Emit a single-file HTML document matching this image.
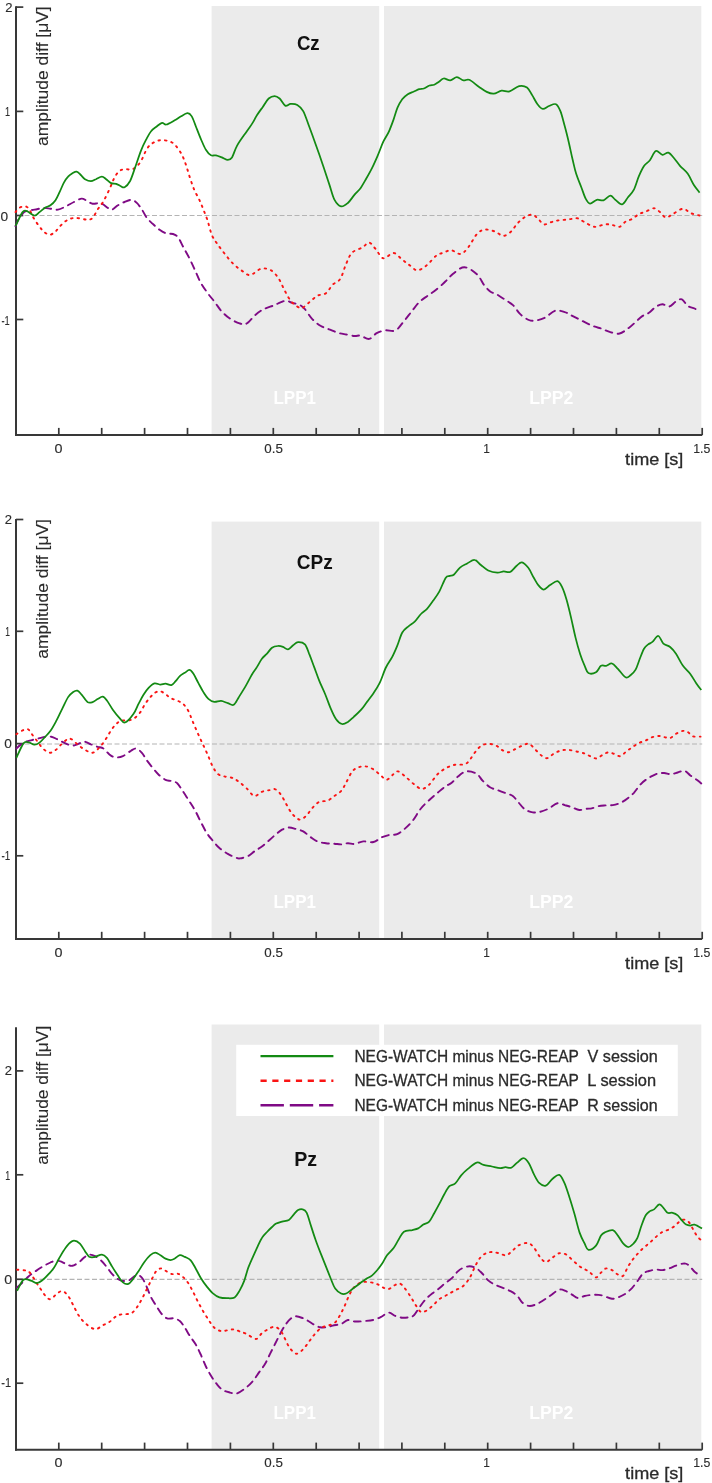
<!DOCTYPE html>
<html><head><meta charset="utf-8"><title>ERP difference waves</title><style>
html,body{margin:0;padding:0;background:#fff;}
body{width:712px;height:1483px;overflow:hidden;}
svg{display:block;font-family:"Liberation Sans",sans-serif;will-change:transform;filter:blur(0.35px);}
</style></head><body>
<svg width="712" height="1483" viewBox="0 0 712 1483">
<rect width="712" height="1483" fill="#fff"/>
<rect x="211.6" y="6.0" width="167.6" height="429.1" fill="#ebebeb"/>
<rect x="384.0" y="6.0" width="317.3" height="429.1" fill="#ebebeb"/>
<text x="273.48" y="403.90" font-size="19" font-weight="bold" fill="#ffffff" textLength="42.49" lengthAdjust="spacingAndGlyphs">LPP1</text>
<text x="529.14" y="403.90" font-size="19" font-weight="bold" fill="#ffffff" textLength="44.19" lengthAdjust="spacingAndGlyphs">LPP2</text>
<line x1="17.0" y1="215.5" x2="702.2" y2="215.5" stroke="#b4b4b4" stroke-width="1.1" stroke-dasharray="5 2.5"/>
<line x1="16.0" y1="6.3" x2="16.0" y2="436.1" stroke="#383838" stroke-width="2"/>
<line x1="15.0" y1="435.1" x2="702.2" y2="435.1" stroke="#383838" stroke-width="2"/>
<line x1="16.0" y1="7.1" x2="23.3" y2="7.1" stroke="#383838" stroke-width="1.7"/>
<text x="5.17" y="11.80" font-size="12.3" fill="#2b2b2b" stroke="#2b2b2b" stroke-width="0.12" textLength="7.26" lengthAdjust="spacingAndGlyphs">2</text>
<line x1="16.0" y1="111.4" x2="23.3" y2="111.4" stroke="#383838" stroke-width="1.7"/>
<text x="4.96" y="115.80" font-size="12.3" fill="#2b2b2b" stroke="#2b2b2b" stroke-width="0.12" textLength="5.08" lengthAdjust="spacingAndGlyphs">1</text>
<line x1="16.0" y1="215.5" x2="23.3" y2="215.5" stroke="#383838" stroke-width="1.7"/>
<text x="0.44" y="220.60" font-size="12.3" fill="#2b2b2b" stroke="#2b2b2b" stroke-width="0.12" textLength="7.62" lengthAdjust="spacingAndGlyphs">0</text>
<line x1="16.0" y1="319.5" x2="23.3" y2="319.5" stroke="#383838" stroke-width="1.7"/>
<text x="1.42" y="324.60" font-size="12.3" fill="#2b2b2b" stroke="#2b2b2b" stroke-width="0.12" textLength="8.30" lengthAdjust="spacingAndGlyphs">-1</text>
<path d="M15.5 226.1C16.1 224.8 17.8 220.3 19.3 218.0C20.8 215.7 22.5 213.4 24.3 212.1C26.1 210.8 28.1 210.9 30.2 210.4C32.3 209.9 34.8 209.6 37.0 209.2C39.2 208.8 41.5 208.0 43.7 207.9C46.0 207.8 48.1 208.4 50.5 208.7C52.9 209.0 55.5 210.0 58.0 209.6C60.5 209.2 62.9 207.8 65.6 206.5C68.3 205.2 71.3 203.3 74.0 202.0C76.7 200.7 79.5 198.8 81.6 198.6C83.7 198.4 84.9 200.0 86.7 200.8C88.5 201.7 90.6 203.3 92.6 203.7C94.6 204.1 96.8 203.1 98.5 203.2C100.2 203.3 101.2 203.4 102.7 204.2C104.2 205.0 106.2 207.0 107.8 207.9C109.3 208.8 110.3 210.0 112.0 209.6C113.7 209.2 115.8 206.6 117.9 205.3C120.0 204.0 122.3 202.9 124.6 202.0C126.9 201.1 129.7 199.7 131.7 199.8C133.7 200.0 135.1 201.3 136.8 202.9C138.5 204.5 140.2 207.1 141.9 209.6C143.6 212.1 145.1 215.6 146.9 218.0C148.7 220.4 150.7 221.9 152.8 223.9C154.9 225.9 157.3 228.2 159.6 229.8C161.8 231.4 164.1 232.8 166.3 233.5C168.5 234.2 171.0 233.3 173.0 234.0C175.0 234.7 176.4 235.3 178.1 237.4C179.8 239.5 181.1 243.0 183.1 246.7C185.1 250.3 187.8 255.1 189.9 259.3C192.0 263.5 194.0 268.1 195.8 272.0C197.6 275.9 198.8 279.4 200.8 282.9C202.8 286.4 205.3 289.9 207.6 293.0C209.8 296.1 212.1 298.6 214.3 301.5C216.6 304.4 218.6 307.9 221.1 310.7C223.6 313.5 226.4 316.2 229.5 318.3C232.6 320.4 236.7 322.5 239.6 323.4C242.5 324.3 244.1 324.9 246.7 323.5C249.3 322.1 252.4 317.5 255.2 315.1C258.0 312.7 260.5 310.8 263.6 309.2C266.7 307.6 270.9 306.6 273.7 305.5C276.5 304.4 278.4 303.2 280.5 302.4C282.6 301.6 284.4 300.6 286.4 300.7C288.3 300.8 290.0 302.1 292.2 302.8C294.4 303.5 297.7 303.9 299.8 305.0C301.9 306.1 302.8 306.8 304.9 309.2C307.0 311.6 309.8 316.5 312.5 319.3C315.2 322.1 318.1 324.3 320.9 326.0C323.7 327.7 326.5 328.3 329.3 329.4C332.1 330.5 335.0 331.9 337.8 332.8C340.6 333.7 343.4 334.0 346.2 334.5C349.0 335.0 352.2 335.8 354.6 336.0C357.0 336.2 358.3 335.2 360.7 335.7C363.1 336.2 366.5 339.3 369.2 338.9C371.9 338.5 374.0 334.6 376.7 333.2C379.4 331.8 382.0 330.9 385.2 330.4C388.4 329.9 392.5 332.0 395.6 330.4C398.8 328.8 401.4 324.1 404.1 321.0C406.8 317.9 409.1 314.6 411.6 311.5C414.1 308.4 416.7 304.6 419.2 302.1C421.7 299.6 423.9 298.4 426.7 296.4C429.5 294.3 433.0 292.3 436.1 289.8C439.2 287.3 442.8 284.0 445.6 281.3C448.4 278.6 450.0 276.2 453.1 273.8C456.2 271.4 460.4 267.1 464.4 267.2C468.4 267.3 473.7 271.4 477.0 274.4C480.3 277.3 481.8 282.1 484.0 284.9C486.2 287.7 488.0 289.8 490.2 291.4C492.4 293.0 494.7 293.2 497.2 294.6C499.7 296.0 502.5 298.1 505.1 299.8C507.7 301.6 510.5 302.8 513.0 305.1C515.5 307.5 517.4 311.4 520.0 313.9C522.6 316.4 526.2 318.9 528.8 320.0C531.4 321.1 533.0 320.9 535.8 320.5C538.6 320.1 542.2 319.0 545.4 317.4C548.6 315.8 551.9 311.6 555.1 310.7C558.3 309.8 561.9 311.3 564.7 312.1C567.5 312.9 568.9 314.1 571.8 315.6C574.7 317.1 578.7 319.1 582.3 320.9C585.9 322.7 590.1 324.9 593.4 326.2C596.7 327.5 599.1 327.8 601.9 328.8C604.7 329.8 607.3 331.3 610.3 332.1C613.2 332.9 616.5 334.2 619.6 333.5C622.7 332.8 626.1 329.8 628.8 327.9C631.5 326.0 633.4 324.0 635.6 322.0C637.9 320.0 640.1 317.6 642.3 316.1C644.5 314.6 646.8 314.3 649.0 312.8C651.2 311.3 653.5 308.3 655.8 306.9C658.0 305.5 660.2 304.4 662.5 304.3C664.8 304.2 667.0 307.0 669.3 306.5C671.5 306.0 673.9 302.7 676.0 301.5C678.1 300.3 679.9 298.6 681.9 299.3C683.9 300.1 685.7 304.5 687.8 306.0C689.9 307.5 692.6 307.5 694.6 308.5C696.6 309.5 698.8 311.3 699.6 311.9" fill="none" stroke="#7f0a85" stroke-width="1.9" stroke-dasharray="6.9 5.5" stroke-linecap="round" stroke-linejoin="round"/>
<path d="M15.5 212.1C16.1 211.4 17.7 208.9 19.3 207.9C20.9 206.9 23.5 205.9 25.2 206.2C26.9 206.5 28.0 207.6 29.4 209.6C30.8 211.6 32.0 215.3 33.6 218.0C35.2 220.7 37.0 223.3 38.7 225.6C40.4 227.8 41.9 230.0 43.7 231.5C45.5 233.0 47.6 234.8 49.6 234.8C51.6 234.8 53.7 233.0 55.5 231.5C57.3 230.0 58.6 227.5 60.6 225.6C62.6 223.7 65.1 221.3 67.3 220.0C69.5 218.7 71.8 218.2 74.0 218.0C76.2 217.8 78.5 218.2 80.8 218.5C83.0 218.8 85.5 219.8 87.5 219.7C89.5 219.6 90.9 219.7 92.6 218.0C94.3 216.3 95.8 212.4 97.6 209.6C99.4 206.8 101.5 204.5 103.5 201.1C105.5 197.7 107.7 193.0 109.4 189.3C111.1 185.7 112.2 182.1 113.7 179.2C115.2 176.2 116.9 173.3 118.7 171.6C120.5 169.9 122.3 169.6 124.6 169.2C126.9 168.8 130.0 170.3 132.6 169.2C135.2 168.1 137.8 165.8 140.2 162.4C142.6 159.0 144.8 152.1 146.9 148.9C149.0 145.7 150.6 144.4 152.8 143.0C155.1 141.6 157.6 140.5 160.4 140.2C163.2 139.9 167.2 140.5 169.7 141.4C172.2 142.3 173.6 143.5 175.6 145.6C177.6 147.7 179.8 150.9 181.5 154.0C183.2 157.1 184.3 160.2 185.7 164.1C187.1 168.0 188.5 173.4 189.9 177.6C191.3 181.8 192.6 185.8 194.1 189.4C195.6 193.1 197.6 196.1 199.2 199.5C200.8 202.9 202.0 206.1 203.4 209.6C204.8 213.1 206.2 216.4 207.6 220.6C209.0 224.8 210.2 231.1 211.8 234.9C213.4 238.7 214.8 240.2 216.9 243.3C219.0 246.4 221.7 250.0 224.4 253.4C227.1 256.8 230.1 260.7 232.9 263.5C235.7 266.3 238.4 268.4 241.3 270.3C244.2 272.2 246.8 275.4 250.1 275.1C253.4 274.8 257.6 269.5 261.1 268.7C264.6 267.9 268.2 268.7 271.2 270.4C274.1 272.1 276.6 275.4 278.8 278.8C281.1 282.2 282.7 287.0 284.7 290.6C286.7 294.2 288.5 298.0 290.6 300.7C292.7 303.4 295.3 305.4 297.3 306.6C299.3 307.8 300.4 308.5 302.4 307.8C304.4 307.1 306.6 304.4 309.1 302.4C311.6 300.4 314.7 297.2 317.5 295.7C320.3 294.2 323.5 295.0 326.0 293.2C328.5 291.4 330.3 287.1 332.7 284.7C335.1 282.3 338.1 282.3 340.3 278.8C342.6 275.3 344.2 268.1 346.2 263.7C348.2 259.3 349.4 255.4 352.1 252.7C354.8 250.0 359.6 249.1 362.5 247.4C365.4 245.7 367.0 242.3 369.2 242.6C371.4 242.9 373.4 246.6 375.8 249.2C378.2 251.8 380.3 257.7 383.3 258.3C386.3 258.9 390.6 252.8 393.7 253.0C396.8 253.2 399.5 257.6 402.2 259.6C404.9 261.7 407.2 263.5 409.7 265.3C412.2 267.1 414.5 270.4 417.3 270.4C420.1 270.4 423.6 267.7 426.7 265.3C429.8 262.9 433.3 257.9 436.1 255.8C438.9 253.7 441.2 253.5 443.7 252.6C446.2 251.7 448.4 250.0 451.2 250.2C454.0 250.4 457.9 254.5 460.7 254.0C463.5 253.5 465.5 250.7 468.2 247.4C470.9 244.1 474.2 237.0 477.0 234.0C479.8 231.0 482.0 230.0 484.9 229.6C487.8 229.2 491.5 230.4 494.6 231.4C497.7 232.4 500.5 235.8 503.3 235.8C506.1 235.8 508.9 233.5 511.2 231.4C513.5 229.3 515.2 225.8 517.4 223.5C519.6 221.2 521.9 218.9 524.4 217.4C526.9 215.9 530.0 214.4 532.3 214.7C534.6 215.0 536.5 217.5 538.4 219.1C540.3 220.7 541.7 223.9 543.7 224.4C545.8 224.9 548.4 223.0 550.7 222.3C553.0 221.7 554.8 221.0 557.7 220.5C560.6 220.0 565.0 219.9 568.2 219.5C571.4 219.1 574.4 217.8 577.0 218.2C579.6 218.6 581.1 220.4 584.0 221.8C586.9 223.2 590.8 226.4 594.3 226.8C597.8 227.2 602.1 224.6 605.2 224.3C608.3 224.0 610.4 224.7 612.8 225.1C615.2 225.5 617.5 227.4 619.6 226.8C621.7 226.2 623.4 223.0 625.5 221.7C627.6 220.4 630.0 220.2 632.2 218.9C634.4 217.7 636.6 215.4 638.9 214.2C641.1 213.0 643.2 212.6 645.7 211.6C648.2 210.6 651.7 208.2 654.1 208.3C656.5 208.4 658.0 210.6 660.0 212.1C662.0 213.6 663.8 217.2 665.9 217.5C668.0 217.8 669.8 215.6 672.6 214.2C675.4 212.8 679.7 209.0 682.8 208.8C685.9 208.7 688.4 212.2 691.2 213.3C694.0 214.4 698.2 215.1 699.6 215.5" fill="none" stroke="#fa1414" stroke-width="1.9" stroke-dasharray="1.5 5" stroke-linecap="round" stroke-linejoin="round"/>
<path d="M15.5 226.0C16.7 223.7 20.7 214.6 22.6 212.1C24.5 209.6 24.9 210.6 26.9 211.2C28.9 211.8 32.3 215.3 34.4 215.5C36.5 215.7 37.7 213.4 39.5 212.1C41.3 210.8 43.6 208.6 45.4 207.5C47.2 206.4 48.8 206.5 50.5 205.3C52.2 204.1 54.0 202.5 55.5 200.3C57.0 198.1 58.3 194.9 59.7 191.9C61.1 188.9 62.5 185.1 63.9 182.6C65.3 180.1 66.7 178.2 68.1 176.7C69.5 175.1 71.0 174.2 72.4 173.3C73.8 172.5 75.2 171.3 76.6 171.6C78.0 171.9 79.4 173.7 80.8 175.0C82.2 176.3 83.3 178.2 85.0 179.2C86.7 180.2 89.1 181.2 90.9 181.2C92.7 181.2 94.2 179.9 96.0 179.2C97.8 178.4 100.2 176.7 101.9 176.7C103.6 176.7 104.6 178.1 106.1 179.2C107.6 180.3 109.4 182.3 111.1 183.1C112.8 183.9 114.7 183.3 116.2 183.8C117.8 184.3 119.0 185.4 120.4 186.0C121.8 186.6 123.0 188.1 124.6 187.3C126.2 186.5 128.3 184.3 130.1 181.0C131.8 177.7 133.3 172.6 135.1 167.5C136.9 162.4 139.2 155.2 141.0 150.6C142.8 146.0 144.4 142.9 146.1 139.7C147.8 136.5 149.3 133.4 151.1 131.2C152.9 128.9 155.2 127.6 157.0 126.2C158.8 124.8 160.5 123.1 162.1 122.8C163.7 122.5 164.2 124.9 166.3 124.5C168.4 124.1 172.3 121.6 174.7 120.3C177.1 119.0 178.5 117.8 180.6 116.6C182.7 115.4 185.6 113.3 187.4 113.2C189.2 113.1 190.2 113.9 191.6 116.1C193.0 118.3 194.3 122.4 195.8 126.2C197.3 130.0 199.1 134.9 200.8 138.8C202.5 142.7 204.2 147.1 205.9 149.8C207.6 152.6 209.3 154.4 211.0 155.3C212.7 156.2 214.2 155.0 216.0 155.3C217.8 155.7 219.9 156.6 221.9 157.4C223.9 158.2 226.1 159.9 227.8 159.9C229.5 159.9 230.4 159.8 232.0 157.4C233.6 155.0 234.7 149.9 237.1 145.6C239.5 141.3 244.1 135.2 246.7 131.4C249.3 127.6 250.9 125.6 252.6 122.9C254.3 120.2 255.2 118.0 256.9 115.3C258.6 112.6 260.8 109.7 262.8 106.9C264.8 104.1 266.7 100.3 268.7 98.5C270.7 96.7 272.8 96.0 274.6 96.0C276.4 96.0 277.8 96.9 279.6 98.5C281.4 100.1 283.4 104.7 285.2 105.6C287.0 106.5 288.6 104.0 290.6 103.9C292.6 103.8 295.2 103.7 297.3 104.9C299.4 106.1 301.2 107.5 303.2 111.1C305.2 114.7 307.0 120.7 309.1 126.3C311.2 131.9 313.6 138.5 315.8 144.8C318.1 151.1 320.4 157.6 322.6 164.2C324.9 170.8 327.3 178.5 329.3 184.4C331.3 190.3 332.4 195.9 334.4 199.6C336.4 203.3 338.9 205.8 341.1 206.4C343.4 207.0 345.6 205.0 347.9 203.0C350.1 201.0 352.5 197.1 354.6 194.6C356.7 192.1 358.8 190.6 360.7 187.9C362.6 185.2 364.4 181.8 366.3 178.5C368.2 175.2 370.1 171.9 372.0 168.1C373.9 164.3 375.7 160.2 377.6 155.8C379.5 151.4 381.4 145.8 383.3 141.7C385.2 137.6 387.3 135.1 389.0 131.3C390.7 127.5 392.3 123.0 393.7 119.1C395.1 115.2 396.1 111.0 397.5 107.7C398.9 104.4 400.5 101.5 402.2 99.2C403.9 97.0 405.9 95.5 407.8 94.2C409.7 93.0 411.6 92.5 413.5 91.7C415.4 90.9 417.5 89.7 419.2 89.2C420.9 88.7 422.2 89.1 423.9 88.5C425.6 87.9 427.8 86.1 429.5 85.5C431.2 84.9 432.6 85.3 434.2 84.7C435.8 84.1 437.4 82.7 439.0 81.7C440.6 80.7 441.8 78.7 443.7 78.5C445.6 78.3 448.1 80.6 450.3 80.4C452.5 80.2 454.7 77.2 456.9 77.2C459.1 77.2 461.4 80.0 463.5 80.4C465.6 80.8 466.6 78.8 469.2 79.8C471.8 80.8 475.9 84.7 478.8 86.7C481.7 88.7 484.2 90.7 486.7 91.9C489.2 93.1 491.2 93.9 493.7 93.7C496.2 93.5 499.0 91.1 501.6 90.7C504.2 90.3 506.6 92.2 509.5 91.4C512.4 90.6 516.2 86.8 519.1 86.1C522.0 85.4 524.8 86.0 527.0 87.5C529.2 89.0 530.5 92.6 532.3 95.4C534.0 98.2 535.8 102.0 537.5 104.2C539.2 106.5 540.9 108.6 542.8 108.9C544.7 109.2 546.8 106.8 549.0 106.0C551.2 105.2 554.1 103.3 556.0 104.2C557.9 105.1 558.9 107.6 560.4 111.2C561.9 114.8 563.2 120.7 564.7 126.1C566.2 131.5 567.8 138.1 569.1 143.7C570.4 149.3 571.4 154.5 572.6 159.5C573.8 164.5 574.6 168.8 576.1 173.5C577.6 178.2 579.8 183.3 581.4 187.5C583.0 191.7 584.3 196.2 585.8 198.9C587.2 201.6 588.3 203.5 590.1 203.7C591.9 203.8 594.6 200.4 596.8 199.8C599.0 199.2 601.2 201.0 603.5 200.3C605.8 199.6 608.3 195.7 610.3 195.6C612.3 195.5 613.3 198.3 615.3 199.8C617.3 201.3 620.0 204.8 622.1 204.4C624.2 204.0 626.0 199.8 628.0 197.3C630.0 194.9 632.1 193.2 633.9 189.7C635.7 186.2 637.2 180.1 638.9 176.2C640.6 172.3 642.2 168.8 644.0 166.1C645.8 163.4 647.9 162.7 649.9 160.2C651.9 157.7 653.7 151.9 655.8 151.0C657.9 150.1 660.4 154.5 662.5 154.8C664.6 155.1 666.4 152.0 668.4 152.6C670.4 153.2 672.3 156.2 674.3 158.5C676.3 160.8 678.0 163.6 680.2 166.1C682.5 168.6 685.5 170.6 687.8 173.7C690.0 176.8 691.7 181.5 693.7 184.7C695.7 187.8 698.6 191.3 699.6 192.6" fill="none" stroke="#138a13" stroke-width="1.75" stroke-linejoin="round"/>
<line x1="58.8" y1="435.1" x2="58.8" y2="427.9" stroke="#383838" stroke-width="1.7"/>
<line x1="101.7" y1="435.1" x2="101.7" y2="427.9" stroke="#383838" stroke-width="1.7"/>
<line x1="144.6" y1="435.1" x2="144.6" y2="427.9" stroke="#383838" stroke-width="1.7"/>
<line x1="187.5" y1="435.1" x2="187.5" y2="427.9" stroke="#383838" stroke-width="1.7"/>
<line x1="230.4" y1="435.1" x2="230.4" y2="427.9" stroke="#383838" stroke-width="1.7"/>
<line x1="273.3" y1="435.1" x2="273.3" y2="427.9" stroke="#383838" stroke-width="1.7"/>
<line x1="316.2" y1="435.1" x2="316.2" y2="427.9" stroke="#383838" stroke-width="1.7"/>
<line x1="359.1" y1="435.1" x2="359.1" y2="427.9" stroke="#383838" stroke-width="1.7"/>
<line x1="401.9" y1="435.1" x2="401.9" y2="427.9" stroke="#383838" stroke-width="1.7"/>
<line x1="444.8" y1="435.1" x2="444.8" y2="427.9" stroke="#383838" stroke-width="1.7"/>
<line x1="487.7" y1="435.1" x2="487.7" y2="427.9" stroke="#383838" stroke-width="1.7"/>
<line x1="530.6" y1="435.1" x2="530.6" y2="427.9" stroke="#383838" stroke-width="1.7"/>
<line x1="573.5" y1="435.1" x2="573.5" y2="427.9" stroke="#383838" stroke-width="1.7"/>
<line x1="616.4" y1="435.1" x2="616.4" y2="427.9" stroke="#383838" stroke-width="1.7"/>
<line x1="659.3" y1="435.1" x2="659.3" y2="427.9" stroke="#383838" stroke-width="1.7"/>
<line x1="702.2" y1="435.1" x2="702.2" y2="427.9" stroke="#383838" stroke-width="1.7"/>
<text x="54.62" y="452.70" font-size="12.3" fill="#2b2b2b" stroke="#2b2b2b" stroke-width="0.12" textLength="7.97" lengthAdjust="spacingAndGlyphs">0</text>
<text x="264.26" y="452.70" font-size="12.3" fill="#2b2b2b" stroke="#2b2b2b" stroke-width="0.12" textLength="18.61" lengthAdjust="spacingAndGlyphs">0.5</text>
<text x="483.33" y="452.70" font-size="12.3" fill="#2b2b2b" stroke="#2b2b2b" stroke-width="0.12" textLength="6.65" lengthAdjust="spacingAndGlyphs">1</text>
<text x="693.20" y="452.70" font-size="12.3" fill="#2b2b2b" stroke="#2b2b2b" stroke-width="0.12">1.5</text>
<text x="625.11" y="464.70" font-size="15.8" fill="#2b2b2b" stroke="#2b2b2b" stroke-width="0.3" textLength="58.23" lengthAdjust="spacingAndGlyphs">time [s]</text>
<text transform="translate(48.00 145.92) rotate(-90)" font-size="16" fill="#2b2b2b" stroke="#2b2b2b" stroke-width="0.1" textLength="139.63" lengthAdjust="spacingAndGlyphs">amplitude diff [&#956;V]</text>
<text x="296.92" y="49.70" font-size="20.6" font-weight="bold" fill="#111111" textLength="22.79" lengthAdjust="spacingAndGlyphs">Cz</text>
<rect x="211.6" y="521.6" width="167.6" height="417.4" fill="#ebebeb"/>
<rect x="384.0" y="521.6" width="317.3" height="417.4" fill="#ebebeb"/>
<text x="273.48" y="907.80" font-size="19" font-weight="bold" fill="#ffffff" textLength="42.49" lengthAdjust="spacingAndGlyphs">LPP1</text>
<text x="529.14" y="907.80" font-size="19" font-weight="bold" fill="#ffffff" textLength="44.19" lengthAdjust="spacingAndGlyphs">LPP2</text>
<line x1="17.0" y1="744.0" x2="702.2" y2="744.0" stroke="#b4b4b4" stroke-width="1.1" stroke-dasharray="5 2.5"/>
<line x1="16.0" y1="519.0" x2="16.0" y2="940.0" stroke="#383838" stroke-width="2"/>
<line x1="15.0" y1="939.0" x2="702.2" y2="939.0" stroke="#383838" stroke-width="2"/>
<line x1="16.0" y1="519.5" x2="23.3" y2="519.5" stroke="#383838" stroke-width="1.7"/>
<text x="4.77" y="524.00" font-size="12.3" fill="#2b2b2b" stroke="#2b2b2b" stroke-width="0.12" textLength="7.26" lengthAdjust="spacingAndGlyphs">2</text>
<line x1="16.0" y1="631.3" x2="23.3" y2="631.3" stroke="#383838" stroke-width="1.7"/>
<text x="5.31" y="635.90" font-size="12.3" fill="#2b2b2b" stroke="#2b2b2b" stroke-width="0.12" textLength="4.69" lengthAdjust="spacingAndGlyphs">1</text>
<line x1="16.0" y1="743.6" x2="23.3" y2="743.6" stroke="#383838" stroke-width="1.7"/>
<text x="4.24" y="748.40" font-size="12.3" fill="#2b2b2b" stroke="#2b2b2b" stroke-width="0.12" textLength="7.62" lengthAdjust="spacingAndGlyphs">0</text>
<line x1="16.0" y1="855.8" x2="23.3" y2="855.8" stroke="#383838" stroke-width="1.7"/>
<text x="1.40" y="860.30" font-size="12.3" fill="#2b2b2b" stroke="#2b2b2b" stroke-width="0.12" textLength="8.75" lengthAdjust="spacingAndGlyphs">-1</text>
<path d="M16.4 748.5C17.0 747.9 18.5 746.2 20.1 745.1C21.7 744.0 24.0 742.5 26.0 741.7C28.0 740.9 29.8 740.7 31.9 740.1C34.0 739.5 36.5 739.0 38.7 738.4C41.0 737.8 43.3 737.0 45.4 736.7C47.5 736.4 49.3 736.3 51.3 736.7C53.3 737.1 55.1 738.2 57.2 739.2C59.3 740.2 61.5 741.5 63.9 742.6C66.3 743.7 69.2 745.3 71.5 745.6C73.8 745.9 75.3 744.9 77.4 744.3C79.5 743.6 82.0 741.7 84.2 741.7C86.5 741.7 88.7 743.4 90.9 744.3C93.1 745.1 95.5 746.1 97.6 746.8C99.7 747.5 101.5 747.2 103.5 748.5C105.5 749.8 107.4 752.9 109.4 754.4C111.4 755.9 113.0 757.1 115.3 757.4C117.5 757.7 120.3 757.2 122.9 756.1C125.5 755.0 128.7 752.0 130.9 750.8C133.1 749.5 134.2 748.3 136.0 748.6C137.8 748.9 140.1 750.8 141.9 752.8C143.7 754.8 145.1 757.9 146.9 760.4C148.7 762.9 150.8 765.6 152.8 768.0C154.8 770.4 156.6 772.7 158.7 774.7C160.8 776.7 163.4 778.7 165.5 779.8C167.6 780.9 169.5 780.5 171.4 781.1C173.3 781.7 175.2 781.5 177.2 783.2C179.1 785.0 181.1 788.7 183.1 791.6C185.1 794.5 187.0 797.7 189.0 800.8C191.0 803.9 192.9 806.6 194.9 810.1C196.9 813.6 198.8 818.1 200.8 821.9C202.8 825.7 204.7 829.8 206.7 832.9C208.7 836.0 210.5 838.0 212.6 840.5C214.7 843.0 216.9 845.8 219.4 848.0C221.9 850.2 225.0 852.3 227.8 853.9C230.6 855.5 234.2 857.0 236.2 857.7C238.2 858.5 238.0 858.7 240.0 858.4C242.0 858.1 245.9 857.2 248.4 855.9C250.9 854.6 252.9 852.3 255.2 850.8C257.4 849.2 259.6 848.3 261.9 846.6C264.1 844.9 266.4 842.7 268.7 840.7C270.9 838.7 273.2 836.6 275.4 834.8C277.6 833.0 279.9 830.9 282.1 829.7C284.4 828.5 286.6 827.6 288.9 827.5C291.1 827.4 293.2 828.2 295.6 828.9C298.0 829.5 300.7 830.0 303.2 831.4C305.7 832.8 308.4 835.6 310.8 837.3C313.2 839.0 315.0 840.5 317.5 841.5C320.0 842.5 323.2 842.8 326.0 843.2C328.8 843.6 331.9 843.5 334.4 843.7C336.9 843.9 338.9 844.5 341.1 844.4C343.4 844.3 345.6 843.3 347.9 843.2C350.1 843.1 352.1 844.3 354.6 844.0C357.2 843.7 360.1 841.7 363.2 841.4C366.3 841.1 370.4 842.7 373.5 842.0C376.6 841.3 379.1 838.5 381.8 837.3C384.6 836.1 387.4 835.3 390.0 834.8C392.6 834.3 394.8 835.2 397.2 834.2C399.6 833.2 401.8 831.3 404.4 829.1C407.0 826.9 409.9 824.2 412.6 820.8C415.4 817.4 418.1 811.9 420.9 808.5C423.6 805.1 426.4 802.8 429.1 800.2C431.8 797.6 434.6 795.3 437.3 793.0C440.1 790.7 443.2 788.0 445.6 786.3C448.0 784.6 449.6 784.4 451.7 782.8C453.8 781.2 455.5 778.5 457.9 776.6C460.3 774.7 463.1 771.9 466.2 771.4C469.3 770.9 473.6 772.0 476.4 773.6C479.2 775.2 480.5 778.6 482.8 780.9C485.1 783.2 487.6 785.8 490.0 787.3C492.4 788.8 494.7 789.0 497.3 790.0C499.9 791.0 502.9 792.1 505.5 793.1C508.1 794.1 510.7 794.5 512.8 796.0C514.9 797.5 516.3 800.0 518.3 802.2C520.3 804.4 522.2 807.4 524.6 809.1C527.0 810.8 530.2 812.0 532.8 812.4C535.4 812.8 537.5 812.4 540.1 811.8C542.7 811.2 545.4 810.2 548.3 808.8C551.2 807.4 554.7 803.9 557.4 803.3C560.1 802.7 562.3 804.4 564.7 805.1C567.1 805.8 569.6 806.5 572.0 807.3C574.4 808.1 576.9 809.8 579.3 810.0C581.7 810.2 584.5 809.1 586.6 808.8C588.7 808.5 589.7 808.8 591.7 808.4C593.7 808.0 596.2 806.7 598.5 806.2C600.8 805.7 602.8 805.6 605.2 805.4C607.6 805.2 610.3 805.5 612.8 805.1C615.3 804.7 618.0 804.0 620.4 802.9C622.8 801.8 624.9 800.4 627.1 798.7C629.4 797.0 631.6 795.2 633.9 792.8C636.1 790.4 638.5 786.5 640.6 784.3C642.7 782.0 644.5 780.7 646.5 779.3C648.5 777.9 650.4 776.9 652.4 775.9C654.4 774.9 656.3 773.9 658.3 773.4C660.3 772.9 662.1 772.9 664.2 773.0C666.3 773.1 668.8 774.3 671.0 774.2C673.2 774.1 675.5 773.1 677.7 772.5C679.9 771.9 682.3 770.3 684.4 770.8C686.5 771.3 688.2 773.8 690.3 775.4C692.4 777.0 695.3 778.8 697.1 780.1C698.9 781.5 700.6 782.9 701.3 783.5" fill="none" stroke="#7f0a85" stroke-width="1.9" stroke-dasharray="6.9 5.5" stroke-linecap="round" stroke-linejoin="round"/>
<path d="M16.4 734.2C17.3 733.6 19.9 731.6 21.8 730.8C23.7 729.9 26.0 728.5 27.7 729.1C29.4 729.7 30.3 732.2 31.9 734.2C33.4 736.2 35.2 738.5 37.0 740.9C38.8 743.3 40.8 746.5 42.9 748.5C45.0 750.5 47.5 752.4 49.6 752.7C51.7 753.0 53.5 751.6 55.5 750.2C57.5 748.8 59.4 746.1 61.4 744.3C63.4 742.5 65.6 740.1 67.3 739.2C69.0 738.4 69.8 738.4 71.5 739.2C73.2 740.1 75.3 742.6 77.4 744.3C79.5 746.0 81.7 747.9 84.2 749.3C86.7 750.7 90.1 753.0 92.6 752.7C95.1 752.4 97.2 749.7 99.3 747.6C101.4 745.5 103.4 742.8 105.2 740.1C107.0 737.4 108.6 734.1 110.3 731.6C112.0 729.1 113.5 726.7 115.3 724.9C117.1 723.1 119.0 721.4 121.2 720.7C123.4 720.0 126.2 720.9 128.4 720.5C130.6 720.1 132.3 719.6 134.3 718.3C136.3 716.9 138.4 714.8 140.2 712.4C142.0 710.0 143.5 706.4 145.2 703.9C146.9 701.4 148.6 699.1 150.3 697.2C152.0 695.3 153.6 693.5 155.3 692.5C157.0 691.5 158.7 691.0 160.4 691.3C162.1 691.6 163.8 693.1 165.5 694.2C167.2 695.3 168.6 696.9 170.5 698.0C172.4 699.1 175.1 699.6 177.2 700.6C179.3 701.6 181.3 702.2 183.1 703.9C184.9 705.6 186.6 707.9 188.2 710.7C189.8 713.5 190.8 717.1 192.4 720.8C194.0 724.4 195.8 728.8 197.5 732.6C199.2 736.4 200.8 739.9 202.5 743.5C204.2 747.1 205.9 750.7 207.6 754.5C209.3 758.3 210.9 763.1 212.6 766.3C214.3 769.5 215.7 772.2 217.7 773.9C219.7 775.6 221.9 775.7 224.4 776.4C226.9 777.1 230.4 777.1 232.9 778.1C235.4 779.1 237.3 780.6 239.6 782.3C241.9 784.0 244.2 786.1 246.7 788.4C249.1 790.7 251.8 795.4 254.3 796.0C256.8 796.6 259.4 792.8 261.9 791.8C264.4 790.8 267.2 790.5 269.5 790.1C271.8 789.7 273.4 788.4 275.4 789.3C277.4 790.1 279.5 792.7 281.3 795.2C283.1 797.7 284.7 801.5 286.4 804.4C288.1 807.3 289.7 810.6 291.4 812.9C293.1 815.1 294.9 816.8 296.5 817.9C298.1 819.0 299.0 820.0 300.7 819.6C302.4 819.2 304.6 817.4 306.6 815.4C308.6 813.4 310.4 810.0 312.5 807.8C314.6 805.5 316.7 803.1 319.2 801.9C321.7 800.7 325.1 801.6 327.6 800.6C330.1 799.6 332.1 797.6 334.4 796.0C336.6 794.4 339.1 793.2 341.1 791.0C343.1 788.8 344.4 785.7 346.2 782.5C348.0 779.3 350.1 774.1 352.1 771.6C354.1 769.1 355.8 768.4 358.0 767.5C360.2 766.6 362.7 766.0 365.3 766.3C367.9 766.6 370.9 767.9 373.5 769.4C376.1 770.9 378.5 773.8 380.7 775.5C382.9 777.2 384.8 779.9 386.9 779.7C389.0 779.5 391.2 775.9 393.1 774.5C395.0 773.1 396.0 770.9 398.2 771.4C400.4 771.9 403.8 775.4 406.5 777.6C409.2 779.8 412.1 782.9 414.7 784.8C417.3 786.7 419.5 788.9 421.9 788.9C424.3 788.9 426.5 787.2 429.1 784.8C431.7 782.4 434.6 777.2 437.3 774.5C440.1 771.8 442.7 769.9 445.6 768.3C448.5 766.7 451.6 765.5 454.8 764.8C458.1 764.1 462.5 765.2 465.1 764.2C467.7 763.2 468.6 761.2 470.3 759.1C472.0 757.0 473.6 754.0 475.5 751.7C477.4 749.4 479.5 746.7 481.8 745.4C484.1 744.1 486.7 743.8 489.1 743.9C491.5 744.0 494.3 744.7 496.4 745.7C498.5 746.7 499.9 748.8 501.9 749.9C503.9 751.0 506.0 752.4 508.3 752.3C510.6 752.1 513.1 750.1 515.5 749.0C517.9 747.9 520.5 746.2 522.8 745.4C525.1 744.5 527.1 743.1 529.2 743.9C531.3 744.6 533.5 747.9 535.6 749.9C537.7 751.9 539.9 754.5 541.9 755.9C543.9 757.3 545.4 758.5 547.4 758.1C549.4 757.7 551.5 754.9 553.8 753.6C556.1 752.3 558.7 751.1 561.1 750.5C563.5 749.9 565.7 749.7 568.4 749.9C571.1 750.1 574.8 751.1 577.5 751.7C580.2 752.3 582.6 752.8 584.8 753.6C587.0 754.4 588.9 755.7 590.9 756.5C592.9 757.3 594.8 758.8 596.8 758.5C598.8 758.2 600.7 755.8 602.7 754.8C604.7 753.8 606.6 752.4 608.6 752.3C610.6 752.2 612.5 753.4 614.5 754.0C616.5 754.6 618.4 756.6 620.4 756.2C622.4 755.8 624.3 753.0 626.3 751.5C628.3 750.0 630.1 748.7 632.2 747.3C634.3 745.9 636.6 744.1 638.9 743.0C641.1 741.9 643.5 741.5 645.7 740.5C648.0 739.5 650.1 737.9 652.4 737.1C654.6 736.4 657.2 736.0 659.2 736.0C661.2 736.0 662.4 736.8 664.2 737.1C666.0 737.4 668.1 738.5 670.1 738.0C672.1 737.5 673.9 735.0 676.0 733.8C678.1 732.6 680.8 731.2 682.8 730.9C684.8 730.6 686.1 731.2 687.8 732.1C689.5 733.0 690.8 735.5 692.9 736.3C695.0 737.0 699.2 736.5 700.5 736.6" fill="none" stroke="#fa1414" stroke-width="1.9" stroke-dasharray="1.5 5" stroke-linecap="round" stroke-linejoin="round"/>
<path d="M16.4 757.8C17.6 755.4 21.5 746.0 23.5 743.4C25.5 740.8 26.7 742.1 28.5 742.3C30.3 742.5 32.6 744.5 34.4 744.6C36.2 744.7 37.8 743.8 39.5 742.6C41.2 741.4 42.8 739.5 44.6 737.5C46.4 735.5 48.5 733.6 50.5 730.8C52.5 728.0 54.4 724.4 56.4 720.7C58.4 717.1 60.2 712.8 62.2 708.9C64.2 705.0 66.3 699.9 68.1 697.1C69.9 694.3 71.7 693.1 73.2 692.0C74.8 690.9 76.0 690.3 77.4 690.7C78.8 691.1 79.9 692.7 81.6 694.6C83.3 696.5 85.7 700.9 87.5 702.1C89.3 703.4 90.9 702.6 92.6 702.1C94.3 701.6 95.9 700.0 97.6 699.1C99.3 698.2 101.2 696.5 102.7 696.7C104.2 696.9 105.2 698.3 106.9 700.5C108.6 702.7 110.7 706.8 112.8 709.7C114.9 712.6 117.6 716.0 119.6 718.1C121.6 720.2 122.7 723.2 125.0 722.5C127.3 721.8 131.2 717.1 133.4 714.0C135.7 710.9 136.8 707.1 138.5 703.9C140.2 700.7 141.8 697.4 143.5 694.7C145.2 692.0 146.8 689.8 148.6 687.9C150.4 686.0 152.5 683.9 154.5 683.4C156.5 682.9 158.6 684.5 160.4 684.6C162.2 684.7 163.7 683.6 165.5 683.7C167.3 683.8 169.7 685.5 171.4 685.1C173.1 684.7 174.2 682.7 175.6 681.2C177.0 679.7 178.3 677.5 179.8 676.1C181.3 674.7 183.2 673.8 184.8 672.8C186.4 671.8 188.0 669.8 189.4 669.9C190.8 670.0 191.8 671.4 193.3 673.6C194.8 675.8 196.6 679.8 198.3 682.9C200.0 686.0 201.7 689.4 203.4 692.1C205.1 694.8 206.6 697.3 208.4 698.9C210.2 700.5 212.2 701.6 214.3 701.9C216.4 702.2 218.8 700.7 221.1 700.9C223.3 701.1 225.7 702.5 227.8 703.1C229.9 703.8 231.9 705.8 233.7 704.8C235.5 703.8 236.8 700.4 238.8 697.2C240.8 694.0 243.7 689.4 245.9 685.6C248.1 681.9 250.0 677.8 251.8 674.7C253.6 671.6 255.2 669.8 256.9 667.1C258.6 664.4 260.2 661.0 261.9 658.7C263.6 656.5 265.3 655.4 267.0 653.6C268.7 651.8 270.2 649.0 272.0 647.7C273.8 646.4 276.1 646.1 277.9 646.0C279.7 645.9 281.3 646.3 283.0 646.9C284.7 647.5 286.3 649.7 288.0 649.4C289.7 649.1 291.4 646.4 293.1 645.2C294.8 644.0 296.1 642.2 298.1 642.1C300.1 642.0 303.1 642.4 304.9 644.3C306.7 646.2 307.6 649.8 309.1 653.6C310.7 657.4 312.5 662.6 314.2 667.1C315.9 671.6 317.4 676.1 319.2 680.6C321.0 685.1 323.1 689.2 325.1 694.0C327.1 698.8 329.2 705.0 331.0 709.2C332.8 713.4 334.3 716.8 336.1 719.3C337.9 721.8 340.0 723.6 342.0 724.0C344.0 724.4 345.9 723.1 347.9 721.9C349.9 720.7 351.6 718.8 353.8 716.8C356.0 714.8 358.9 712.3 361.2 709.7C363.5 707.1 365.3 704.1 367.4 701.4C369.4 698.6 371.4 696.3 373.5 693.2C375.6 690.1 377.6 687.2 379.7 682.9C381.8 678.6 383.8 671.8 385.9 667.5C388.0 663.2 390.2 660.8 392.1 657.2C394.0 653.6 395.5 650.0 397.2 645.9C398.9 641.8 400.4 635.8 402.3 632.5C404.2 629.2 406.4 628.1 408.5 626.3C410.6 624.5 412.6 623.6 414.7 621.6C416.8 619.6 418.8 616.1 420.9 614.0C422.9 611.9 424.9 611.0 427.0 608.8C429.1 606.6 431.1 603.5 433.2 600.6C435.3 597.7 437.3 595.1 439.4 591.3C441.5 587.5 443.9 580.5 445.6 577.9C447.3 575.3 448.3 576.4 449.7 575.9C451.1 575.4 452.1 576.2 453.8 574.8C455.5 573.4 457.8 569.5 460.0 567.6C462.2 565.7 464.8 564.8 467.2 563.5C469.6 562.2 472.3 559.6 474.6 559.9C476.9 560.1 478.6 563.2 480.9 565.0C483.2 566.8 485.5 569.2 488.2 570.5C490.9 571.8 494.7 572.6 497.3 572.7C499.9 572.9 501.6 571.5 503.7 571.4C505.8 571.3 508.0 572.9 510.1 572.0C512.2 571.1 514.4 567.6 516.4 566.0C518.4 564.4 519.9 562.0 521.9 562.3C523.9 562.6 526.3 565.2 528.3 567.8C530.3 570.4 532.1 574.9 533.8 577.8C535.5 580.7 536.6 583.1 538.3 585.1C540.0 587.1 541.8 589.6 543.8 589.6C545.8 589.6 547.8 586.5 550.1 585.1C552.4 583.7 555.4 580.8 557.4 581.1C559.4 581.4 560.5 583.8 562.0 586.9C563.5 590.0 565.0 594.4 566.5 599.6C568.0 604.8 569.6 611.5 571.1 617.9C572.6 624.3 574.1 631.8 575.6 637.9C577.1 644.0 578.7 649.6 580.2 654.3C581.7 659.0 583.4 663.0 584.8 666.1C586.2 669.2 586.5 672.1 588.4 673.1C590.3 674.1 593.9 673.4 596.0 672.2C598.1 671.0 599.3 666.9 601.0 665.8C602.7 664.7 604.3 666.2 606.1 665.8C607.9 665.4 610.0 663.0 612.0 663.5C614.0 664.0 615.6 666.6 617.9 668.9C620.1 671.2 623.4 676.2 625.5 677.3C627.6 678.4 628.8 676.6 630.5 675.3C632.2 674.0 634.1 672.5 635.6 669.7C637.1 667.0 638.4 662.3 639.8 658.8C641.2 655.3 642.6 651.1 644.0 648.7C645.4 646.3 646.8 645.5 648.2 644.4C649.6 643.3 650.7 643.3 652.4 641.9C654.1 640.5 656.5 635.7 658.3 636.0C660.1 636.3 661.4 641.8 663.4 643.6C665.4 645.4 668.0 645.3 670.1 647.0C672.2 648.7 673.9 650.6 676.0 653.7C678.1 656.8 680.4 662.1 682.8 665.5C685.2 668.9 688.1 670.9 690.3 673.9C692.5 676.9 694.4 680.5 696.2 683.2C698.0 685.9 700.4 688.9 701.3 690.0" fill="none" stroke="#138a13" stroke-width="1.75" stroke-linejoin="round"/>
<line x1="58.8" y1="939.0" x2="58.8" y2="931.8" stroke="#383838" stroke-width="1.7"/>
<line x1="101.7" y1="939.0" x2="101.7" y2="931.8" stroke="#383838" stroke-width="1.7"/>
<line x1="144.6" y1="939.0" x2="144.6" y2="931.8" stroke="#383838" stroke-width="1.7"/>
<line x1="187.5" y1="939.0" x2="187.5" y2="931.8" stroke="#383838" stroke-width="1.7"/>
<line x1="230.4" y1="939.0" x2="230.4" y2="931.8" stroke="#383838" stroke-width="1.7"/>
<line x1="273.3" y1="939.0" x2="273.3" y2="931.8" stroke="#383838" stroke-width="1.7"/>
<line x1="316.2" y1="939.0" x2="316.2" y2="931.8" stroke="#383838" stroke-width="1.7"/>
<line x1="359.1" y1="939.0" x2="359.1" y2="931.8" stroke="#383838" stroke-width="1.7"/>
<line x1="401.9" y1="939.0" x2="401.9" y2="931.8" stroke="#383838" stroke-width="1.7"/>
<line x1="444.8" y1="939.0" x2="444.8" y2="931.8" stroke="#383838" stroke-width="1.7"/>
<line x1="487.7" y1="939.0" x2="487.7" y2="931.8" stroke="#383838" stroke-width="1.7"/>
<line x1="530.6" y1="939.0" x2="530.6" y2="931.8" stroke="#383838" stroke-width="1.7"/>
<line x1="573.5" y1="939.0" x2="573.5" y2="931.8" stroke="#383838" stroke-width="1.7"/>
<line x1="616.4" y1="939.0" x2="616.4" y2="931.8" stroke="#383838" stroke-width="1.7"/>
<line x1="659.3" y1="939.0" x2="659.3" y2="931.8" stroke="#383838" stroke-width="1.7"/>
<line x1="702.2" y1="939.0" x2="702.2" y2="931.8" stroke="#383838" stroke-width="1.7"/>
<text x="54.62" y="956.60" font-size="12.3" fill="#2b2b2b" stroke="#2b2b2b" stroke-width="0.12" textLength="7.97" lengthAdjust="spacingAndGlyphs">0</text>
<text x="264.26" y="956.60" font-size="12.3" fill="#2b2b2b" stroke="#2b2b2b" stroke-width="0.12" textLength="18.61" lengthAdjust="spacingAndGlyphs">0.5</text>
<text x="483.33" y="956.60" font-size="12.3" fill="#2b2b2b" stroke="#2b2b2b" stroke-width="0.12" textLength="6.65" lengthAdjust="spacingAndGlyphs">1</text>
<text x="693.20" y="956.60" font-size="12.3" fill="#2b2b2b" stroke="#2b2b2b" stroke-width="0.12">1.5</text>
<text x="625.11" y="968.60" font-size="15.8" fill="#2b2b2b" stroke="#2b2b2b" stroke-width="0.3" textLength="58.23" lengthAdjust="spacingAndGlyphs">time [s]</text>
<text transform="translate(48.00 658.72) rotate(-90)" font-size="16" fill="#2b2b2b" stroke="#2b2b2b" stroke-width="0.1" textLength="139.63" lengthAdjust="spacingAndGlyphs">amplitude diff [&#956;V]</text>
<text x="296.81" y="569.30" font-size="20.6" font-weight="bold" fill="#111111" textLength="35.90" lengthAdjust="spacingAndGlyphs">CPz</text>
<rect x="211.6" y="1024.5" width="167.6" height="425.3" fill="#ebebeb"/>
<rect x="384.0" y="1024.5" width="317.3" height="425.3" fill="#ebebeb"/>
<text x="273.48" y="1418.60" font-size="19" font-weight="bold" fill="#ffffff" textLength="42.49" lengthAdjust="spacingAndGlyphs">LPP1</text>
<text x="529.14" y="1418.60" font-size="19" font-weight="bold" fill="#ffffff" textLength="44.19" lengthAdjust="spacingAndGlyphs">LPP2</text>
<line x1="17.0" y1="1279.4" x2="702.2" y2="1279.4" stroke="#b4b4b4" stroke-width="1.1" stroke-dasharray="5 2.5"/>
<rect x="236.2" y="1044.8" width="441.6" height="71.2" fill="#fff"/>
<line x1="260.5" y1="1056.1" x2="333.4" y2="1056.1" stroke="#138a13" stroke-width="2.4"/>
<line x1="260.5" y1="1080.7" x2="333.4" y2="1080.7" stroke="#fa1414" stroke-width="2.4" stroke-dasharray="6.2 5.6"/>
<line x1="260.5" y1="1105.3" x2="333.4" y2="1105.3" stroke="#7f0a85" stroke-width="2.4" stroke-dasharray="23.4 5.9"/>
<text x="354.40" y="1061.60" font-size="16.2" fill="#2b2b2b" stroke="#2b2b2b" stroke-width="0.3" textLength="224.50" lengthAdjust="spacingAndGlyphs">NEG-WATCH minus NEG-REAP</text>
<text x="587.55" y="1061.60" font-size="16.2" fill="#2b2b2b" stroke="#2b2b2b" stroke-width="0.3">V session</text>
<text x="354.40" y="1086.30" font-size="16.2" fill="#2b2b2b" stroke="#2b2b2b" stroke-width="0.3" textLength="224.50" lengthAdjust="spacingAndGlyphs">NEG-WATCH minus NEG-REAP</text>
<text x="587.33" y="1086.30" font-size="16.2" fill="#2b2b2b" stroke="#2b2b2b" stroke-width="0.3" textLength="68.73" lengthAdjust="spacingAndGlyphs">L session</text>
<text x="354.40" y="1110.80" font-size="16.2" fill="#2b2b2b" stroke="#2b2b2b" stroke-width="0.3" textLength="224.50" lengthAdjust="spacingAndGlyphs">NEG-WATCH minus NEG-REAP</text>
<text x="587.36" y="1110.80" font-size="16.2" fill="#2b2b2b" stroke="#2b2b2b" stroke-width="0.3" textLength="70.30" lengthAdjust="spacingAndGlyphs">R session</text>
<line x1="16.0" y1="1027.3" x2="16.0" y2="1450.8" stroke="#383838" stroke-width="2"/>
<line x1="15.0" y1="1449.8" x2="702.2" y2="1449.8" stroke="#383838" stroke-width="2"/>
<line x1="16.0" y1="1070.9" x2="23.3" y2="1070.9" stroke="#383838" stroke-width="1.7"/>
<text x="4.77" y="1074.90" font-size="12.3" fill="#2b2b2b" stroke="#2b2b2b" stroke-width="0.12" textLength="7.26" lengthAdjust="spacingAndGlyphs">2</text>
<line x1="16.0" y1="1174.8" x2="23.3" y2="1174.8" stroke="#383838" stroke-width="1.7"/>
<text x="5.28" y="1179.70" font-size="12.3" fill="#2b2b2b" stroke="#2b2b2b" stroke-width="0.12" textLength="4.95" lengthAdjust="spacingAndGlyphs">1</text>
<line x1="16.0" y1="1279.3" x2="23.3" y2="1279.3" stroke="#383838" stroke-width="1.7"/>
<text x="4.23" y="1283.90" font-size="12.3" fill="#2b2b2b" stroke="#2b2b2b" stroke-width="0.12" textLength="7.86" lengthAdjust="spacingAndGlyphs">0</text>
<line x1="16.0" y1="1383.2" x2="23.3" y2="1383.2" stroke="#383838" stroke-width="1.7"/>
<text x="1.35" y="1387.40" font-size="12.3" fill="#2b2b2b" stroke="#2b2b2b" stroke-width="0.12" textLength="9.76" lengthAdjust="spacingAndGlyphs">-1</text>
<path d="M17.1 1287.4C18.0 1286.6 20.7 1284.2 22.6 1282.4C24.5 1280.6 26.4 1278.3 28.5 1276.5C30.6 1274.7 32.9 1273.1 35.3 1271.4C37.7 1269.7 40.4 1267.9 42.9 1266.4C45.4 1264.9 48.2 1263.5 50.5 1262.5C52.8 1261.5 54.4 1260.6 56.4 1260.5C58.4 1260.4 60.4 1261.4 62.2 1262.1C64.0 1262.8 65.6 1264.1 67.3 1264.7C69.0 1265.3 70.4 1266.2 72.4 1265.8C74.4 1265.4 77.1 1263.5 79.1 1262.1C81.1 1260.7 82.5 1258.7 84.2 1257.4C85.9 1256.2 87.4 1254.8 89.2 1254.6C91.0 1254.4 93.1 1255.2 95.1 1256.2C97.1 1257.2 99.0 1258.7 101.0 1260.5C103.0 1262.3 105.1 1265.0 106.9 1267.2C108.7 1269.4 110.2 1271.9 112.0 1273.9C113.8 1275.9 116.1 1277.8 117.9 1279.0C119.7 1280.2 121.0 1280.8 122.9 1281.0C124.8 1281.2 127.3 1281.0 129.2 1280.2C131.1 1279.4 132.8 1277.2 134.3 1276.3C135.9 1275.4 137.1 1274.7 138.5 1275.1C139.9 1275.5 141.3 1276.8 142.7 1278.8C144.1 1280.8 145.5 1284.2 146.9 1287.3C148.3 1290.4 149.6 1294.3 151.1 1297.4C152.6 1300.5 154.5 1303.1 156.2 1305.8C157.9 1308.5 159.4 1311.3 161.2 1313.4C163.0 1315.5 165.0 1317.6 167.1 1318.4C169.2 1319.2 171.8 1318.0 173.9 1318.4C176.0 1318.8 178.0 1319.5 179.8 1321.0C181.6 1322.5 183.1 1325.2 184.8 1327.7C186.5 1330.2 188.1 1333.3 189.9 1336.1C191.7 1338.9 194.0 1341.5 195.8 1344.6C197.6 1347.7 199.1 1351.0 200.8 1354.7C202.5 1358.4 204.2 1363.0 205.9 1366.5C207.6 1370.0 209.2 1372.8 211.0 1375.7C212.8 1378.7 214.9 1381.8 216.9 1384.2C218.9 1386.6 220.6 1388.7 222.8 1390.1C225.0 1391.5 227.9 1392.0 230.3 1392.6C232.7 1393.1 234.4 1394.3 237.1 1393.4C239.8 1392.5 244.0 1389.3 246.7 1387.1C249.4 1384.9 251.4 1382.8 253.5 1380.3C255.6 1377.8 257.4 1374.7 259.4 1371.9C261.4 1369.1 263.5 1366.6 265.3 1363.5C267.1 1360.4 268.6 1356.8 270.3 1353.4C272.0 1350.0 273.7 1346.7 275.4 1343.3C277.1 1339.9 278.8 1336.3 280.5 1333.2C282.2 1330.1 283.8 1327.1 285.5 1324.7C287.2 1322.3 288.9 1320.2 290.6 1318.8C292.3 1317.4 293.6 1316.4 295.6 1316.3C297.6 1316.2 300.3 1317.2 302.4 1318.0C304.5 1318.8 306.3 1319.9 308.3 1321.0C310.3 1322.1 312.2 1323.7 314.2 1324.7C316.2 1325.8 318.1 1326.9 320.1 1327.3C322.1 1327.7 323.9 1327.6 326.0 1327.3C328.1 1327.0 330.2 1326.2 332.7 1325.6C335.2 1325.0 338.6 1324.8 341.1 1323.9C343.6 1323.0 345.6 1320.4 347.9 1320.0C350.1 1319.6 352.0 1321.3 354.6 1321.5C357.2 1321.7 360.2 1321.4 363.4 1321.1C366.5 1320.8 370.6 1320.6 373.5 1319.9C376.4 1319.2 378.6 1318.1 381.1 1316.9C383.6 1315.7 386.3 1312.8 388.7 1312.6C391.1 1312.4 393.2 1315.2 395.5 1316.0C397.8 1316.8 400.0 1317.5 402.2 1317.7C404.4 1317.9 406.9 1317.6 408.9 1317.2C410.9 1316.8 412.2 1317.0 414.0 1315.2C415.8 1313.5 417.9 1309.4 419.9 1306.7C421.9 1304.0 423.7 1301.4 425.8 1299.2C427.9 1297.0 430.2 1295.1 432.5 1293.3C434.8 1291.5 437.2 1289.9 439.3 1288.2C441.4 1286.5 443.1 1284.9 445.2 1283.2C447.3 1281.5 449.8 1280.1 451.9 1278.1C454.0 1276.1 456.0 1273.1 457.8 1271.4C459.6 1269.7 460.9 1268.8 462.9 1268.0C464.9 1267.2 467.4 1266.3 469.6 1266.3C471.8 1266.3 473.9 1266.9 475.9 1268.0C477.9 1269.1 479.7 1270.9 481.8 1273.0C483.9 1275.1 486.2 1278.6 488.5 1280.6C490.8 1282.6 492.9 1283.6 495.3 1284.8C497.7 1286.0 500.4 1286.8 502.9 1287.9C505.4 1289.0 508.1 1289.9 510.5 1291.2C512.9 1292.5 515.2 1293.9 517.2 1295.8C519.2 1297.7 520.2 1300.8 522.2 1302.5C524.2 1304.2 526.6 1305.6 529.0 1305.9C531.4 1306.2 534.1 1305.2 536.6 1304.2C539.1 1303.2 541.8 1301.2 544.2 1299.7C546.6 1298.2 548.4 1297.0 550.9 1295.3C553.4 1293.6 556.8 1290.3 559.3 1289.6C561.8 1288.9 564.0 1290.4 566.1 1291.2C568.2 1292.0 570.0 1293.5 572.0 1294.6C574.0 1295.7 575.8 1297.8 577.9 1298.0C580.0 1298.2 582.3 1296.5 584.6 1296.0C586.9 1295.5 589.4 1295.1 591.7 1294.9C594.0 1294.7 596.5 1294.7 598.5 1294.9C600.5 1295.1 601.2 1295.2 603.5 1295.9C605.8 1296.6 609.5 1298.6 612.0 1298.8C614.5 1299.0 616.5 1297.9 618.7 1297.1C621.0 1296.2 623.2 1295.2 625.5 1293.7C627.8 1292.2 630.1 1290.0 632.2 1287.8C634.3 1285.5 636.3 1282.6 638.1 1280.2C639.9 1277.8 641.3 1275.0 643.1 1273.5C644.9 1272.0 646.9 1271.7 649.0 1271.0C651.1 1270.3 653.5 1269.8 655.8 1269.6C658.0 1269.4 660.2 1270.3 662.5 1270.1C664.8 1269.9 667.0 1269.2 669.3 1268.4C671.5 1267.7 673.5 1266.4 676.0 1265.6C678.5 1264.8 682.1 1263.4 684.4 1263.4C686.6 1263.5 687.8 1264.5 689.5 1265.9C691.2 1267.3 692.6 1270.1 694.6 1271.8C696.6 1273.5 700.2 1275.3 701.3 1276.0" fill="none" stroke="#7f0a85" stroke-width="1.9" stroke-dasharray="6.9 5.5" stroke-linecap="round" stroke-linejoin="round"/>
<path d="M17.1 1269.7C18.2 1269.8 21.6 1269.9 23.5 1270.2C25.4 1270.5 26.8 1270.1 28.5 1271.4C30.2 1272.7 31.8 1275.4 33.6 1278.1C35.4 1280.8 37.5 1284.5 39.5 1287.4C41.5 1290.4 43.6 1293.8 45.4 1295.8C47.2 1297.8 48.7 1299.5 50.5 1299.2C52.3 1298.9 54.4 1295.6 56.4 1294.2C58.4 1292.8 60.2 1290.8 62.2 1291.1C64.2 1291.4 66.3 1293.5 68.1 1295.8C69.9 1298.1 71.4 1301.7 73.2 1305.1C75.0 1308.5 77.0 1313.0 79.1 1316.1C81.2 1319.2 83.1 1321.5 85.8 1323.7C88.5 1325.9 92.3 1328.9 95.1 1329.2C97.9 1329.5 100.3 1326.5 102.7 1325.3C105.1 1324.1 107.3 1323.4 109.4 1322.0C111.5 1320.6 113.3 1318.2 115.3 1316.9C117.3 1315.6 118.6 1315.0 121.2 1314.4C123.8 1313.8 128.3 1314.6 130.9 1313.4C133.5 1312.2 135.0 1309.9 136.8 1307.5C138.6 1305.1 140.2 1302.1 141.9 1299.0C143.6 1295.9 145.2 1292.3 146.9 1288.9C148.6 1285.5 150.4 1281.8 152.0 1278.8C153.6 1275.8 154.7 1272.9 156.2 1271.2C157.7 1269.5 159.5 1268.4 161.2 1268.4C162.9 1268.4 164.5 1270.2 166.3 1271.2C168.1 1272.2 170.2 1273.7 172.2 1274.1C174.2 1274.5 176.3 1273.3 178.1 1273.8C179.9 1274.3 181.4 1275.6 183.1 1277.1C184.8 1278.6 186.5 1280.5 188.2 1283.0C189.9 1285.5 191.6 1289.1 193.3 1292.3C195.0 1295.5 196.6 1299.2 198.3 1302.4C200.0 1305.6 201.6 1308.6 203.4 1311.7C205.2 1314.8 207.5 1318.3 209.3 1321.0C211.1 1323.7 212.3 1326.0 214.3 1327.7C216.3 1329.4 218.8 1330.7 221.1 1331.1C223.3 1331.5 225.7 1330.5 227.8 1330.2C229.9 1329.9 231.7 1329.2 233.7 1329.4C235.7 1329.6 237.4 1330.6 239.6 1331.4C241.8 1332.2 244.0 1332.7 246.7 1334.0C249.4 1335.3 253.5 1339.1 256.0 1339.0C258.5 1338.9 259.9 1334.8 261.9 1333.2C263.9 1331.6 265.7 1330.5 267.8 1329.4C269.9 1328.3 272.5 1326.5 274.6 1326.7C276.7 1326.9 278.8 1328.7 280.5 1330.6C282.2 1332.5 283.3 1335.5 284.7 1338.2C286.1 1340.9 287.4 1344.2 288.9 1346.6C290.4 1349.0 292.4 1351.4 293.9 1352.5C295.4 1353.6 296.4 1354.1 298.1 1353.4C299.8 1352.7 302.2 1350.3 304.0 1348.3C305.8 1346.3 307.4 1343.8 309.1 1341.6C310.8 1339.3 312.2 1337.0 314.2 1334.8C316.2 1332.5 318.7 1329.6 320.9 1328.1C323.1 1326.6 325.4 1326.4 327.6 1325.6C329.9 1324.8 332.4 1324.5 334.4 1323.0C336.4 1321.5 337.7 1319.1 339.4 1316.3C341.1 1313.5 342.8 1309.8 344.5 1306.2C346.2 1302.6 347.9 1297.6 349.6 1294.4C351.3 1291.2 352.6 1288.8 354.6 1286.8C356.6 1284.8 359.1 1283.0 361.7 1282.3C364.3 1281.5 367.7 1282.0 370.2 1282.3C372.7 1282.6 374.8 1283.2 376.9 1284.0C379.0 1284.8 380.8 1286.6 382.8 1287.4C384.8 1288.2 386.9 1289.3 388.7 1289.0C390.5 1288.7 392.0 1286.6 393.8 1285.7C395.6 1284.8 397.9 1283.1 399.7 1283.5C401.5 1283.9 402.9 1286.0 404.7 1288.2C406.5 1290.4 408.8 1293.8 410.6 1296.6C412.4 1299.4 414.0 1302.6 415.7 1305.1C417.4 1307.6 419.0 1310.8 420.7 1311.8C422.4 1312.8 423.8 1312.0 425.8 1311.0C427.8 1310.0 430.2 1307.9 432.5 1305.9C434.8 1303.9 436.9 1301.0 439.3 1299.2C441.7 1297.4 444.4 1296.4 446.9 1295.0C449.4 1293.6 451.7 1292.2 454.4 1290.7C457.1 1289.2 460.4 1288.3 462.9 1286.2C465.4 1284.1 467.6 1281.4 469.6 1278.1C471.6 1274.8 473.4 1269.7 475.1 1266.3C476.9 1262.9 478.3 1260.1 480.1 1257.9C481.9 1255.7 484.0 1254.2 486.0 1253.2C488.0 1252.2 489.8 1252.0 491.9 1252.0C494.0 1252.0 496.3 1252.7 498.7 1253.2C501.1 1253.8 504.0 1255.7 506.2 1255.3C508.4 1254.9 510.0 1252.8 512.1 1251.1C514.2 1249.4 516.2 1246.5 518.9 1245.2C521.6 1243.9 525.6 1242.6 528.1 1243.0C530.6 1243.4 532.0 1245.5 534.0 1247.8C536.0 1250.1 538.0 1254.6 540.0 1257.0C542.0 1259.4 543.7 1262.0 545.8 1262.1C547.9 1262.2 550.4 1259.0 552.6 1257.5C554.9 1256.0 557.0 1253.7 559.3 1253.2C561.5 1252.7 563.9 1253.3 566.1 1254.5C568.4 1255.7 570.5 1258.4 572.8 1260.4C575.0 1262.4 577.6 1264.8 579.6 1266.3C581.6 1267.8 583.2 1268.2 585.0 1269.3C586.8 1270.3 588.3 1271.2 590.1 1272.6C591.9 1273.9 594.2 1277.4 596.0 1277.4C597.8 1277.4 599.3 1274.1 601.0 1272.6C602.7 1271.1 604.3 1268.8 606.1 1268.4C607.9 1268.0 610.2 1269.2 612.0 1270.1C613.8 1271.0 615.2 1273.0 617.0 1274.0C618.8 1275.0 621.1 1277.2 622.9 1276.0C624.7 1274.8 626.3 1269.5 628.0 1266.7C629.7 1263.9 631.3 1261.4 633.0 1259.2C634.7 1257.0 636.4 1255.1 638.1 1253.3C639.8 1251.5 641.4 1249.8 643.1 1248.2C644.8 1246.7 646.7 1245.3 648.2 1244.0C649.8 1242.7 650.9 1241.7 652.4 1240.3C653.9 1238.9 655.8 1237.0 657.5 1235.6C659.2 1234.2 660.7 1232.9 662.5 1231.9C664.3 1230.9 666.4 1230.6 668.4 1229.7C670.4 1228.8 672.5 1227.6 674.3 1226.3C676.1 1225.0 677.7 1222.8 679.4 1221.7C681.1 1220.6 682.7 1219.4 684.4 1219.6C686.1 1219.8 688.0 1221.1 689.5 1222.9C691.0 1224.7 692.3 1228.1 693.7 1230.5C695.1 1232.9 696.5 1235.5 697.9 1237.2C699.3 1238.9 701.3 1240.0 702.0 1240.6" fill="none" stroke="#fa1414" stroke-width="1.9" stroke-dasharray="1.5 5" stroke-linecap="round" stroke-linejoin="round"/>
<path d="M17.1 1290.8C18.2 1289.0 21.2 1281.5 23.5 1279.8C25.8 1278.1 28.9 1280.1 31.1 1280.7C33.4 1281.3 35.0 1283.4 37.0 1283.2C39.0 1283.0 40.9 1281.3 42.9 1279.8C44.9 1278.2 47.0 1275.9 48.8 1273.9C50.6 1271.9 52.1 1270.5 53.8 1268.0C55.5 1265.5 57.2 1261.8 58.9 1258.8C60.6 1255.8 62.2 1252.8 63.9 1250.3C65.6 1247.8 67.3 1245.2 69.0 1243.6C70.7 1242.0 72.2 1240.6 74.0 1240.6C75.8 1240.6 78.1 1241.8 79.9 1243.6C81.7 1245.4 83.5 1249.0 85.0 1251.2C86.5 1253.4 87.7 1255.7 89.2 1256.7C90.8 1257.7 92.2 1257.4 94.3 1257.1C96.4 1256.8 99.8 1254.5 101.9 1254.6C104.0 1254.7 105.2 1255.9 106.9 1257.9C108.6 1259.9 110.2 1263.5 112.0 1266.4C113.8 1269.4 116.1 1272.9 117.9 1275.6C119.7 1278.3 121.2 1281.0 122.9 1282.4C124.7 1283.8 126.8 1284.4 128.4 1283.9C130.0 1283.5 130.9 1281.8 132.6 1279.7C134.3 1277.6 136.5 1274.2 138.5 1271.2C140.5 1268.2 142.4 1264.7 144.4 1262.0C146.4 1259.3 148.5 1256.8 150.3 1255.2C152.1 1253.7 153.6 1252.7 155.3 1252.7C157.0 1252.7 158.7 1254.2 160.4 1255.2C162.1 1256.2 163.8 1257.8 165.5 1258.6C167.2 1259.4 169.0 1260.0 170.5 1260.0C172.0 1260.0 173.1 1259.4 174.7 1258.6C176.2 1257.8 178.1 1255.5 179.8 1255.2C181.5 1254.9 183.0 1256.1 184.8 1256.9C186.6 1257.8 188.9 1258.3 190.7 1260.3C192.5 1262.3 194.1 1265.8 195.8 1268.7C197.5 1271.7 199.0 1275.0 200.8 1278.0C202.6 1281.0 204.7 1283.9 206.7 1286.4C208.7 1288.9 210.5 1291.3 212.6 1293.1C214.7 1294.9 217.0 1296.6 219.4 1297.4C221.8 1298.2 224.5 1298.2 227.0 1298.2C229.5 1298.2 232.5 1298.7 234.6 1297.4C236.7 1296.1 238.0 1293.3 239.6 1290.6C241.2 1287.8 242.7 1284.8 244.2 1280.9C245.7 1277.0 246.8 1271.6 248.4 1267.4C250.0 1263.2 251.9 1259.1 253.5 1255.6C255.1 1252.1 256.3 1249.4 257.7 1246.4C259.1 1243.5 260.3 1240.3 261.9 1237.9C263.4 1235.5 265.3 1233.8 267.0 1232.0C268.7 1230.2 270.5 1228.4 272.0 1227.0C273.5 1225.6 274.5 1224.5 276.2 1223.6C277.9 1222.7 280.0 1222.2 282.1 1221.6C284.2 1221.0 286.9 1221.1 288.9 1219.9C290.9 1218.7 292.4 1215.9 293.9 1214.3C295.4 1212.7 296.7 1210.9 298.1 1210.1C299.5 1209.3 301.0 1208.9 302.4 1209.3C303.8 1209.7 305.2 1209.9 306.6 1212.6C308.0 1215.3 309.3 1220.6 310.8 1225.3C312.3 1230.0 314.1 1235.7 315.8 1240.5C317.5 1245.3 319.2 1249.6 320.9 1253.9C322.6 1258.2 324.3 1262.4 326.0 1266.6C327.7 1270.8 329.5 1275.5 331.0 1279.2C332.5 1282.9 333.5 1286.1 335.2 1288.5C336.9 1290.9 339.3 1292.7 341.1 1293.5C342.9 1294.3 344.4 1294.2 346.2 1293.5C348.0 1292.8 349.8 1291.0 352.1 1289.3C354.4 1287.6 357.8 1284.9 360.1 1283.2C362.4 1281.5 364.0 1280.2 366.0 1278.9C368.0 1277.6 370.1 1277.0 371.9 1275.6C373.7 1274.2 375.2 1272.5 376.9 1270.5C378.6 1268.5 380.3 1266.3 382.0 1263.8C383.7 1261.3 385.0 1258.0 387.0 1255.3C389.0 1252.6 391.8 1250.5 393.8 1247.8C395.8 1245.1 397.1 1242.0 398.8 1239.3C400.5 1236.6 401.6 1233.2 403.9 1231.7C406.1 1230.2 409.9 1230.6 412.3 1230.1C414.7 1229.5 416.4 1229.3 418.2 1228.4C420.0 1227.5 421.5 1225.6 423.3 1224.5C425.1 1223.4 427.4 1223.5 429.2 1221.6C431.0 1219.7 432.5 1216.2 434.2 1213.2C435.9 1210.2 437.6 1207.1 439.3 1203.9C441.0 1200.7 442.6 1197.2 444.3 1194.2C446.0 1191.2 447.6 1188.0 449.4 1186.2C451.2 1184.4 453.3 1185.2 455.3 1183.4C457.3 1181.6 459.1 1177.7 461.2 1175.3C463.3 1172.9 465.3 1171.0 467.9 1168.9C470.5 1166.8 474.1 1163.3 476.7 1162.6C479.3 1161.9 481.0 1164.1 483.5 1164.8C486.0 1165.5 489.1 1165.9 491.9 1166.5C494.7 1167.1 498.1 1168.1 500.3 1168.2C502.6 1168.3 503.6 1167.3 505.4 1167.2C507.2 1167.1 509.3 1168.5 511.3 1167.7C513.3 1166.9 515.2 1164.2 517.2 1162.6C519.2 1161.0 521.6 1157.9 523.6 1158.1C525.6 1158.2 527.3 1160.8 529.0 1163.5C530.7 1166.2 532.3 1171.2 534.0 1174.4C535.7 1177.6 537.1 1181.0 539.1 1182.9C541.1 1184.8 543.5 1186.4 545.8 1185.7C548.0 1185.0 550.4 1180.5 552.6 1178.7C554.9 1176.9 557.3 1174.2 559.3 1174.9C561.3 1175.6 562.7 1179.2 564.4 1182.9C566.1 1186.6 567.7 1192.0 569.4 1197.2C571.1 1202.4 572.8 1208.1 574.5 1214.0C576.2 1219.9 577.9 1227.7 579.6 1232.6C581.3 1237.5 583.1 1240.6 584.6 1243.5C586.1 1246.4 586.5 1249.5 588.4 1249.9C590.3 1250.3 593.9 1248.1 596.0 1245.7C598.1 1243.3 599.5 1237.8 601.0 1235.6C602.5 1233.3 603.2 1233.1 605.2 1232.2C607.2 1231.3 610.7 1229.6 612.8 1230.2C614.9 1230.8 616.2 1233.4 617.9 1235.6C619.6 1237.8 621.2 1241.2 622.9 1243.1C624.6 1245.0 626.3 1246.8 628.0 1247.0C629.7 1247.2 631.5 1245.5 633.0 1244.0C634.5 1242.5 635.9 1241.2 637.3 1238.1C638.7 1235.0 640.1 1229.3 641.5 1225.5C642.9 1221.7 644.3 1217.7 645.7 1215.3C647.1 1212.9 648.5 1212.1 649.9 1211.1C651.3 1210.1 652.5 1210.5 654.1 1209.4C655.7 1208.3 657.7 1204.7 659.2 1204.4C660.8 1204.1 662.0 1206.4 663.4 1207.8C664.8 1209.2 666.1 1212.0 667.6 1212.8C669.1 1213.6 670.9 1212.4 672.6 1212.8C674.3 1213.2 676.2 1214.0 677.7 1215.3C679.2 1216.6 680.5 1218.9 681.9 1220.4C683.3 1222.0 684.7 1223.8 686.1 1224.6C687.5 1225.4 688.9 1225.5 690.3 1225.5C691.7 1225.5 692.6 1224.1 694.6 1224.6C696.6 1225.1 700.8 1227.8 702.0 1228.5" fill="none" stroke="#138a13" stroke-width="1.75" stroke-linejoin="round"/>
<line x1="58.8" y1="1449.8" x2="58.8" y2="1442.6" stroke="#383838" stroke-width="1.7"/>
<line x1="101.7" y1="1449.8" x2="101.7" y2="1442.6" stroke="#383838" stroke-width="1.7"/>
<line x1="144.6" y1="1449.8" x2="144.6" y2="1442.6" stroke="#383838" stroke-width="1.7"/>
<line x1="187.5" y1="1449.8" x2="187.5" y2="1442.6" stroke="#383838" stroke-width="1.7"/>
<line x1="230.4" y1="1449.8" x2="230.4" y2="1442.6" stroke="#383838" stroke-width="1.7"/>
<line x1="273.3" y1="1449.8" x2="273.3" y2="1442.6" stroke="#383838" stroke-width="1.7"/>
<line x1="316.2" y1="1449.8" x2="316.2" y2="1442.6" stroke="#383838" stroke-width="1.7"/>
<line x1="359.1" y1="1449.8" x2="359.1" y2="1442.6" stroke="#383838" stroke-width="1.7"/>
<line x1="401.9" y1="1449.8" x2="401.9" y2="1442.6" stroke="#383838" stroke-width="1.7"/>
<line x1="444.8" y1="1449.8" x2="444.8" y2="1442.6" stroke="#383838" stroke-width="1.7"/>
<line x1="487.7" y1="1449.8" x2="487.7" y2="1442.6" stroke="#383838" stroke-width="1.7"/>
<line x1="530.6" y1="1449.8" x2="530.6" y2="1442.6" stroke="#383838" stroke-width="1.7"/>
<line x1="573.5" y1="1449.8" x2="573.5" y2="1442.6" stroke="#383838" stroke-width="1.7"/>
<line x1="616.4" y1="1449.8" x2="616.4" y2="1442.6" stroke="#383838" stroke-width="1.7"/>
<line x1="659.3" y1="1449.8" x2="659.3" y2="1442.6" stroke="#383838" stroke-width="1.7"/>
<line x1="702.2" y1="1449.8" x2="702.2" y2="1442.6" stroke="#383838" stroke-width="1.7"/>
<text x="54.62" y="1467.40" font-size="12.3" fill="#2b2b2b" stroke="#2b2b2b" stroke-width="0.12" textLength="7.97" lengthAdjust="spacingAndGlyphs">0</text>
<text x="264.26" y="1467.40" font-size="12.3" fill="#2b2b2b" stroke="#2b2b2b" stroke-width="0.12" textLength="18.61" lengthAdjust="spacingAndGlyphs">0.5</text>
<text x="483.33" y="1467.40" font-size="12.3" fill="#2b2b2b" stroke="#2b2b2b" stroke-width="0.12" textLength="6.65" lengthAdjust="spacingAndGlyphs">1</text>
<text x="693.20" y="1467.40" font-size="12.3" fill="#2b2b2b" stroke="#2b2b2b" stroke-width="0.12">1.5</text>
<text x="625.11" y="1479.40" font-size="15.8" fill="#2b2b2b" stroke="#2b2b2b" stroke-width="0.3" textLength="58.23" lengthAdjust="spacingAndGlyphs">time [s]</text>
<text transform="translate(48.00 1164.81) rotate(-90)" font-size="16" fill="#2b2b2b" stroke="#2b2b2b" stroke-width="0.1" textLength="139.02" lengthAdjust="spacingAndGlyphs">amplitude diff [&#956;V]</text>
<text x="294.17" y="1165.50" font-size="20.6" font-weight="bold" fill="#111111" textLength="22.89" lengthAdjust="spacingAndGlyphs">Pz</text>
</svg></body></html>
